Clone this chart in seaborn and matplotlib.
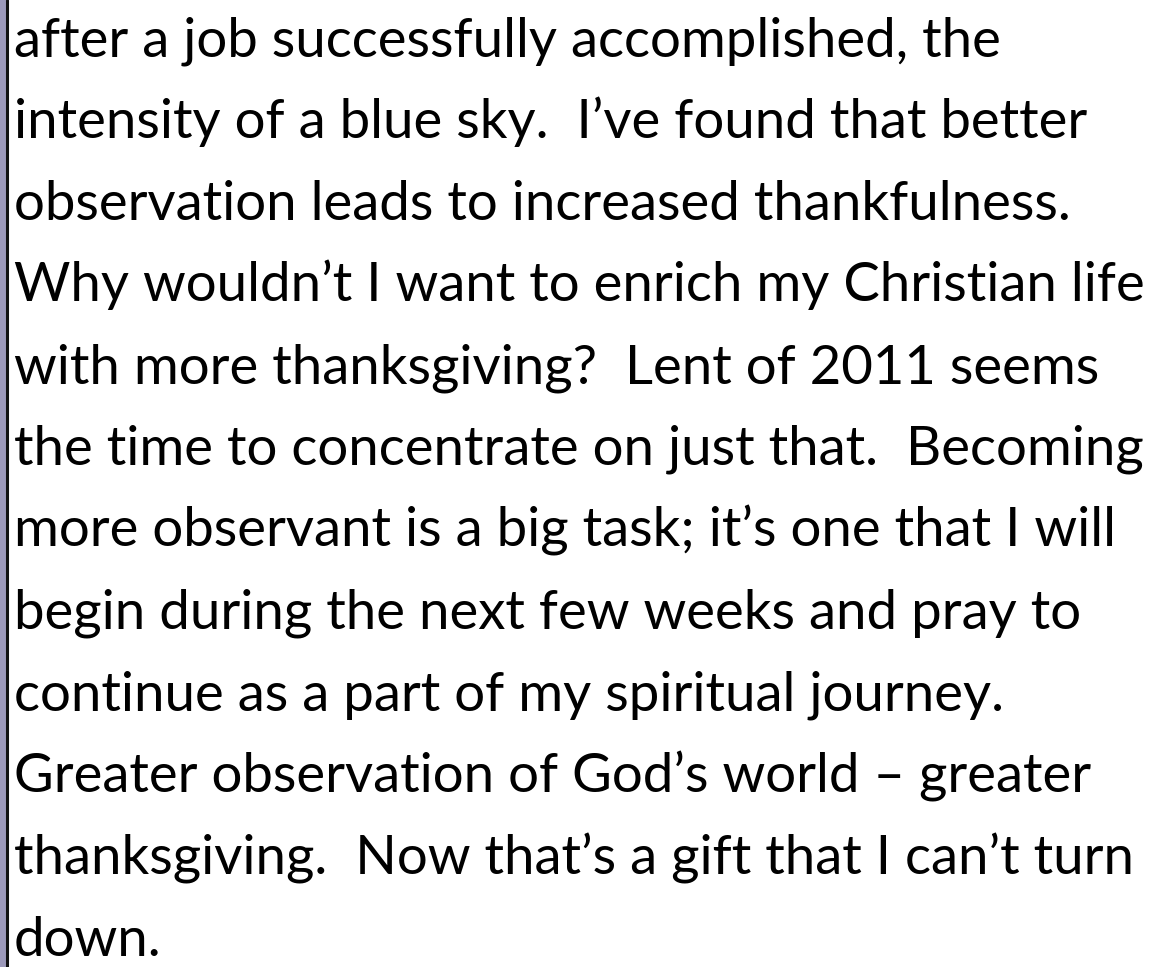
import matplotlib
matplotlib.use("Agg")
import matplotlib.pyplot as plt
import seaborn as sns

lines = [
    "after a job successfully accomplished, the",
    "intensity of a blue sky.  I\u2019ve found that better",
    "observation leads to increased thankfulness.",
    "Why wouldn\u2019t I want to enrich my Christian life",
    "with more thanksgiving?  Lent of 2011 seems",
    "the time to concentrate on just that.  Becoming",
    "more observant is a big task; it\u2019s one that I will",
    "begin during the next few weeks and pray to",
    "continue as a part of my spiritual journey.",
    "Greater observation of God\u2019s world \u2013 greater",
    "thanksgiving.  Now that\u2019s a gift that I can\u2019t turn",
    "down.",
]
line_no = list(range(len(lines)))

sns.set_theme(style="white")
plt.rcParams["font.family"] = ["Lato", "DejaVu Sans"]

W, H = 1165, 967
fig = plt.figure(figsize=(W / 100, H / 100), dpi=100)
ax = fig.add_axes([0, 0, 1, 1])
ax.set_xlim(0, W)
ax.set_ylim(H, 0)
ax.axis("off")

# left page border
ax.axvspan(0, 5.5, color="#9c99ba", lw=0)
ax.axvline(6.8, color="#111111", lw=2.2)

first_base, step = 56, 81.8
size = 40
texts = []
for i, s in zip(line_no, lines):
    t = ax.text(14, first_base + i * step, s, fontsize=size, color="black",
                ha="left", va="baseline")
    texts.append(t)

# fit font size so the widest reference line spans about 1128 px
fig.canvas.draw()
r = fig.canvas.get_renderer()
w = texts[5].get_window_extent(r).width
for t in texts:
    t.set_fontsize(size * 1128 / w)

fig.savefig("out.png", dpi=100)
